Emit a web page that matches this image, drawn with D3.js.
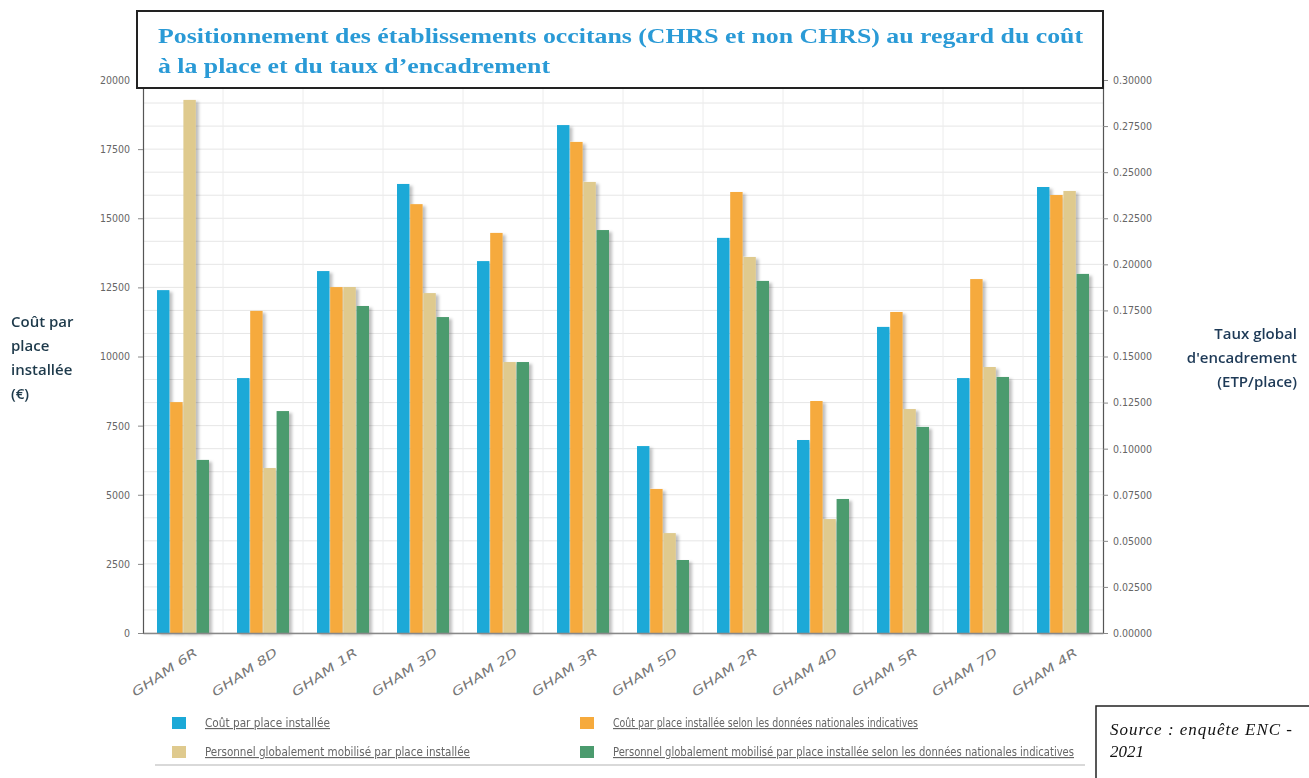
<!DOCTYPE html>
<html>
<head>
<meta charset="utf-8">
<script src="https://cdn.jsdelivr.net/npm/d3@7"></script>
<style>
  html, body { margin: 0; padding: 0; background: #fff; }
  svg { display: block; }
</style>
</head>
<body>
<svg id="chart" width="1309" height="778"></svg>
<script>
// ---------- DATA ----------
const categories = ["GHAM 6R","GHAM 8D","GHAM 1R","GHAM 3D","GHAM 2D","GHAM 3R","GHAM 5D","GHAM 2R","GHAM 4D","GHAM 5R","GHAM 7D","GHAM 4R"];
const seriesNames = [
  "Coût par place installée",
  "Coût par place installée selon les données nationales indicatives",
  "Personnel globalement mobilisé par place installée",
  "Personnel globalement mobilisé par place installée selon les données nationales indicatives"
];
// cost series (left axis, €)
const coutPlace = [12400, 9220, 13090, 16240, 13450, 18370, 6760, 14290, 6980, 11070, 9220, 16130];
const coutNational = [8350, 11650, 12510, 15510, 14470, 17760, 5210, 15950, 8390, 11610, 12800, 15840];
// staff series (right axis, ETP/place)
const personnelPlace = [0.2892, 0.0895, 0.1877, 0.1844, 0.1470, 0.2447, 0.0542, 0.2040, 0.0618, 0.1215, 0.1443, 0.2398];
const personnelNational = [0.0939, 0.1204, 0.1774, 0.1714, 0.1470, 0.2186, 0.0396, 0.1910, 0.0727, 0.1118, 0.1389, 0.1948];
const leftTicks = [0, 2500, 5000, 7500, 10000, 12500, 15000, 17500, 20000];
const rightTicks = [0, 0.025, 0.05, 0.075, 0.1, 0.125, 0.15, 0.175, 0.2, 0.225, 0.25, 0.275, 0.3];
const colors = ["#1ba9d7", "#f6aa3c", "#dfca8e", "#4b9b6e"];

// ---------- LAYOUT ----------
const svg = d3.select("#chart");
const L = 143, R = 1103, T = 80, B = 633;
const narrow = "'Liberation Sans Narrow','DejaVu Sans Condensed','Arial Narrow',sans-serif";

const defs = svg.append("defs");
const f = defs.append("filter").attr("id", "shadow").attr("x", "-20%").attr("y", "-5%").attr("width", "160%").attr("height", "110%");
f.append("feDropShadow").attr("dx", 3).attr("dy", 2).attr("stdDeviation", 1.5).attr("flood-color", "#000").attr("flood-opacity", 0.25);

const yL = d3.scaleLinear().domain([0, 20000]).range([B, T]);
const yR = d3.scaleLinear().domain([0, 0.3]).range([B, T]);
const x0 = d3.scaleBand().domain(categories).range([L, R]).paddingInner(0.35).paddingOuter(0.175);
const x1 = d3.scaleBand().domain(d3.range(4)).range([0, x0.bandwidth()]).paddingInner(0.06);

// grid
const g = svg.append("g");
const gridVals = d3.range(0, 20001, 2500 / 3);
g.selectAll("line.h").data(gridVals).join("line")
  .attr("x1", L).attr("x2", R).attr("y1", d => yL(d)).attr("y2", d => yL(d))
  .attr("stroke", "#e6e6e6").attr("stroke-width", 1);
g.selectAll("line.v").data(d3.range(1, categories.length)).join("line")
  .attr("x1", i => L + i * x0.step()).attr("x2", i => L + i * x0.step())
  .attr("y1", T).attr("y2", B).attr("stroke", "#ececec").attr("stroke-width", 1);

// bars
const rows = categories.map((c, i) => ({
  cat: c,
  vals: [
    {k: 0, y: yL(coutPlace[i])},
    {k: 1, y: yL(coutNational[i])},
    {k: 2, y: yR(personnelPlace[i])},
    {k: 3, y: yR(personnelNational[i])}
  ]
}));
const bars = svg.append("g").attr("filter", "url(#shadow)");
bars.selectAll("g").data(rows).join("g")
  .attr("transform", d => `translate(${x0(d.cat)},0)`)
  .selectAll("rect").data(d => d.vals).join("rect")
  .attr("x", d => x1(d.k)).attr("width", x1.bandwidth())
  .attr("y", d => d.y).attr("height", d => B - d.y)
  .attr("fill", d => colors[d.k]);

// axes
const axL = svg.append("g").attr("transform", `translate(${L},0)`)
  .call(d3.axisLeft(yL).tickValues(leftTicks).tickSize(5).tickPadding(8).tickFormat(d3.format("d")));
const axR = svg.append("g").attr("transform", `translate(${R},0)`)
  .call(d3.axisRight(yR).tickValues(rightTicks).tickSize(5).tickPadding(5).tickFormat(d3.format(".5f")));
const axB = svg.append("g").attr("transform", `translate(0,${B})`)
  .call(d3.axisBottom(x0).tickSize(0).tickPadding(0));
[axL, axR].forEach(a => {
  a.select(".domain").attr("stroke", "#555").attr("stroke-width", 1.2);
  a.selectAll(".tick line").attr("stroke", "#888");
  a.selectAll("text").attr("fill", "#666").style("font-family", narrow).style("font-size", "10.5px");
});
axB.select(".domain").attr("stroke", "#888").attr("stroke-width", 1.5);
axB.selectAll("text")
  .attr("fill", "#777").style("font-family", narrow).style("font-size", "12px").style("font-style", "italic")
  .attr("text-anchor", "end").attr("x", 0).attr("y", 0).attr("dy", "0.35em")
  .attr("textLength", 76).attr("lengthAdjust", "spacingAndGlyphs")
  .attr("transform", "translate(13,18) rotate(-34)");

// axis titles
const titleFont = "'Open Sans','Noto Sans',sans-serif";
const lt = svg.append("text").attr("x", 11).attr("y", 327).attr("fill", "#1e3a4b")
  .style("font-family", titleFont).style("font-size", "15px").style("font-weight", 600);
["Coût par", "place", "installée", "(€)"].forEach((s, i) => lt.append("tspan").attr("x", 11).attr("dy", i ? 24 : 0).text(s));
const rt = svg.append("text").attr("x", 1297).attr("y", 339).attr("fill", "#1e3a57").attr("text-anchor", "end")
  .style("font-family", titleFont).style("font-size", "15px").style("font-weight", 600);
["Taux global", "d'encadrement", "(ETP/place)"].forEach((s, i) => rt.append("tspan").attr("x", 1297).attr("dy", i ? 24 : 0).text(s));

// title box
svg.append("rect").attr("x", 137).attr("y", 11).attr("width", 966).attr("height", 77)
  .attr("fill", "#fff").attr("stroke", "#222").attr("stroke-width", 2);
const tfont = "'Liberation Serif','DejaVu Serif',serif";
svg.append("text").attr("x", 158).attr("y", 43).attr("fill", "#2a9ad6")
  .style("font-family", tfont).style("font-size", "22px").style("font-weight", "bold")
  .attr("textLength", 925).attr("lengthAdjust", "spacingAndGlyphs")
  .text("Positionnement des établissements occitans (CHRS et non CHRS) au regard du coût");
svg.append("text").attr("x", 158).attr("y", 73).attr("fill", "#2a9ad6")
  .style("font-family", tfont).style("font-size", "22px").style("font-weight", "bold")
  .attr("textLength", 392).attr("lengthAdjust", "spacingAndGlyphs")
  .text("à la place et du taux d’encadrement");

// legend
const lg = svg.append("g");
lg.append("line").attr("x1", 155).attr("x2", 1085).attr("y1", 765).attr("y2", 765).attr("stroke", "#ccc").attr("stroke-width", 1.5);
const legPos = [[172, 717], [580, 717], [172, 746], [580, 746]];
const legLen = [125, 305, 265, 461];
seriesNames.forEach((s, i) => {
  const [lx, ly] = legPos[i];
  lg.append("rect").attr("x", lx).attr("y", ly).attr("width", 14).attr("height", 12).attr("fill", colors[i]);
  lg.append("text").attr("x", lx + 33).attr("y", ly + 10).text(s)
    .attr("fill", "#666").style("font-family", narrow).style("font-size", "11.5px")
    .attr("textLength", legLen[i]).attr("lengthAdjust", "spacingAndGlyphs")
    .style("text-decoration", "underline");
});

// source box
svg.append("rect").attr("x", 1096).attr("y", 706).attr("width", 220).attr("height", 80)
  .attr("fill", "#fff").attr("stroke", "#222").attr("stroke-width", 1.5);
const sfont = "'Liberation Serif','DejaVu Serif',serif";
svg.append("text").attr("x", 1110).attr("y", 735).attr("fill", "#111")
  .style("font-family", sfont).style("font-size", "17px").style("font-style", "italic")
  .attr("textLength", 182).attr("lengthAdjust", "spacing")
  .text("Source :  enquête  ENC -");
svg.append("text").attr("x", 1110).attr("y", 757).attr("fill", "#111")
  .style("font-family", sfont).style("font-size", "17px").style("font-style", "italic")
  .text("2021");
</script>
</body>
</html>
